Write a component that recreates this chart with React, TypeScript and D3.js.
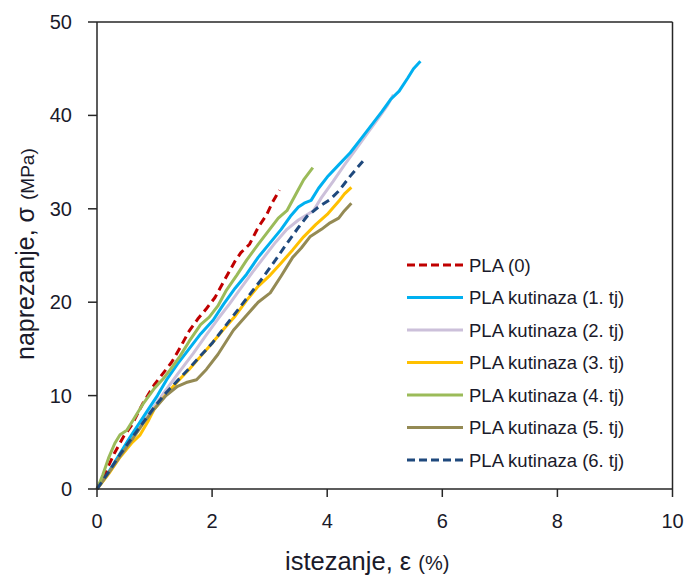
import React from "react";
import * as d3 from "d3";

type Pt = [number, number];

const seriesNames = [
  "PLA (0)",
  "PLA kutinaza (1. tj)",
  "PLA kutinaza (2. tj)",
  "PLA kutinaza (3. tj)",
  "PLA kutinaza (4. tj)",
  "PLA kutinaza (5. tj)",
  "PLA kutinaza (6. tj)",
];
const seriesColors = ["#C00000", "#00B0F0", "#CCC0DA", "#FFC000", "#9BBB59", "#948A54", "#1F497D"];
const seriesDashed = [true, false, false, false, false, false, true];

const pla0: Pt[] = [[0,0],[0.15,1.8],[0.3,3.8],[0.46,5.6],[0.6,6.8],[0.8,9.2],[1.0,11.2],[1.1,12.0],[1.3,13.6],[1.45,15.2],[1.6,16.9],[1.75,18.2],[1.9,19.3],[2.05,20.5],[2.2,22.2],[2.4,24.4],[2.5,25.3],[2.65,26.2],[2.8,28.0],[2.95,29.4],[3.05,30.7],[3.17,32.0]];
const plaK1: Pt[] = [[0,0],[0.2,1.8],[0.4,3.8],[0.57,5.5],[0.75,7.2],[0.9,8.6],[1.05,10.0],[1.21,11.7],[1.4,13.4],[1.6,15.0],[1.8,16.6],[2.02,18.1],[2.2,19.8],[2.4,21.5],[2.6,23.0],[2.8,24.8],[3.0,26.3],[3.2,27.8],[3.36,29.2],[3.5,30.2],[3.6,30.6],[3.72,30.9],[3.85,32.2],[4.0,33.4],[4.2,34.7],[4.4,36.0],[4.6,37.6],[4.8,39.2],[4.95,40.4],[5.1,41.7],[5.25,42.6],[5.4,44.0],[5.5,45.0],[5.62,45.8]];
const plaK2: Pt[] = [[0,0],[0.2,1.7],[0.4,3.6],[0.6,5.4],[0.8,7.2],[1.0,8.9],[1.2,10.6],[1.4,12.3],[1.67,14.5],[1.9,16.5],[2.1,18.2],[2.3,19.8],[2.5,21.5],[2.7,23.2],[2.9,24.8],[3.1,26.4],[3.3,27.8],[3.5,28.8],[3.76,29.8],[3.9,31.2],[4.1,32.9],[4.3,34.7],[4.5,36.4],[4.7,38.1],[4.9,39.8],[5.05,41.1],[5.15,42.2]];
const plaK3: Pt[] = [[0,0],[0.2,1.6],[0.4,3.4],[0.6,4.9],[0.75,5.8],[0.9,7.4],[1.0,8.6],[1.2,10.1],[1.4,11.5],[1.6,12.8],[1.8,14.2],[2.0,15.6],[2.2,17.1],[2.4,18.5],[2.6,20.2],[2.8,21.7],[3.01,22.9],[3.2,24.2],[3.4,25.6],[3.59,27.0],[3.8,28.3],[4.0,29.4],[4.2,30.8],[4.3,31.6],[4.42,32.3]];
const plaK4: Pt[] = [[0,0],[0.1,1.5],[0.2,3.3],[0.31,4.9],[0.4,5.8],[0.52,6.3],[0.65,7.6],[0.81,9.2],[1.0,10.8],[1.15,11.8],[1.27,12.75],[1.44,14.2],[1.6,15.8],[1.8,17.6],[1.95,18.4],[2.1,19.6],[2.25,21.3],[2.43,22.9],[2.6,24.5],[2.8,26.2],[3.0,27.8],[3.15,29.0],[3.3,29.8],[3.45,31.5],[3.59,33.1],[3.75,34.4]];
const plaK5: Pt[] = [[0,0],[0.2,1.7],[0.4,3.5],[0.6,5.2],[0.8,7.0],[1.0,8.6],[1.2,10.0],[1.4,11.0],[1.55,11.4],[1.73,11.7],[1.9,12.8],[2.1,14.4],[2.37,17.0],[2.6,18.6],[2.8,20.0],[3.01,21.0],[3.2,22.8],[3.4,24.8],[3.55,25.8],[3.7,27.0],[3.9,27.8],[4.05,28.5],[4.2,29.0],[4.3,29.8],[4.42,30.6]];
const plaK6: Pt[] = [[0,0],[0.2,1.8],[0.4,3.7],[0.6,5.4],[0.8,7.1],[1.0,8.8],[1.2,10.3],[1.4,11.6],[1.6,12.9],[1.79,14.2],[2.0,15.6],[2.2,17.2],[2.4,18.8],[2.6,20.4],[2.89,22.7],[3.1,24.5],[3.3,26.3],[3.5,28.0],[3.65,29.2],[3.85,30.2],[4.05,31.0],[4.2,31.9],[4.4,33.5],[4.62,35.1]];

const seriesData: Pt[][] = [pla0, plaK1, plaK2, plaK3, plaK4, plaK5, plaK6];
const drawOrder = [2, 1, 0, 3, 5, 4, 6];

const xTicks = [0, 2, 4, 6, 8, 10];
const yTicks = [0, 10, 20, 30, 40, 50];

export default function App() {
  const W = 690, H = 579;
  const x = d3.scaleLinear().domain([0, 10]).range([97, 672.5]);
  const y = d3.scaleLinear().domain([0, 50]).range([489, 22]);
  const line = d3.line<Pt>().x((d) => x(d[0])).y((d) => y(d[1]));
  const font = "'Liberation Sans', Arial, sans-serif";
  const axisCol = "#262626";
  const textCol = "#1a1a2a";
  const legX = 407, legY0 = 265, legStep = 32.5;

  return (
    <svg width={W} height={H} style={{ position: "absolute", left: 0, top: 0, background: "#fff" }} fontFamily={font}>
      <rect x={0} y={0} width={W} height={H} fill="#fff" />
      {/* frame */}
      <line x1={x(0)} x2={x(10)} y1={y(50)} y2={y(50)} stroke={axisCol} strokeWidth={1.5} />
      <line x1={x(10)} x2={x(10)} y1={y(50)} y2={y(0)} stroke={axisCol} strokeWidth={1.5} />
      {/* series */}
      {drawOrder.map((i) => (
        <path
          key={i}
          d={line(seriesData[i]) || ""}
          fill="none"
          stroke={seriesColors[i]}
          strokeWidth={3}
          strokeDasharray={seriesDashed[i] ? "8,5" : undefined}
          strokeLinejoin="round"
        />
      ))}
      {/* axes */}
      <line x1={x(0)} x2={x(0)} y1={y(50)} y2={y(0)} stroke={axisCol} strokeWidth={1.5} />
      <line x1={x(0)} x2={x(10)} y1={y(0)} y2={y(0)} stroke={axisCol} strokeWidth={1.5} />
      {yTicks.map((t) => (
        <g key={"y" + t}>
          <line x1={88} x2={x(0)} y1={y(t)} y2={y(t)} stroke={axisCol} strokeWidth={1.5} />
          <text x={72} y={y(t) + 7} textAnchor="end" fontSize={20} fill={textCol}>{t}</text>
        </g>
      ))}
      {xTicks.map((t) => (
        <g key={"x" + t}>
          <line x1={x(t)} x2={x(t)} y1={y(0)} y2={y(0) + 8} stroke={axisCol} strokeWidth={1.5} />
          <text x={x(t)} y={528} textAnchor="middle" fontSize={20} fill={textCol}>{t}</text>
        </g>
      ))}
      {/* axis titles */}
      <text x={285} y={570} fontSize={25.5} fill={textCol}>
        istezanje, ε <tspan fontSize={20}>(%)</tspan>
      </text>
      <text transform="translate(34,360) rotate(-90)" fontSize={25} fill={textCol}>
        naprezanje, σ <tspan fontSize={19}>(MPa)</tspan>
      </text>
      {/* legend */}
      {seriesNames.map((n, i) => (
        <g key={"l" + i}>
          <line
            x1={legX}
            x2={legX + 56}
            y1={legY0 + i * legStep}
            y2={legY0 + i * legStep}
            stroke={seriesColors[i]}
            strokeWidth={3}
            strokeDasharray={seriesDashed[i] ? "8,4" : undefined}
          />
          <text x={469} y={legY0 + i * legStep + 6.5} fontSize={18.5} fill={textCol}>{n}</text>
        </g>
      ))}
    </svg>
  );
}
